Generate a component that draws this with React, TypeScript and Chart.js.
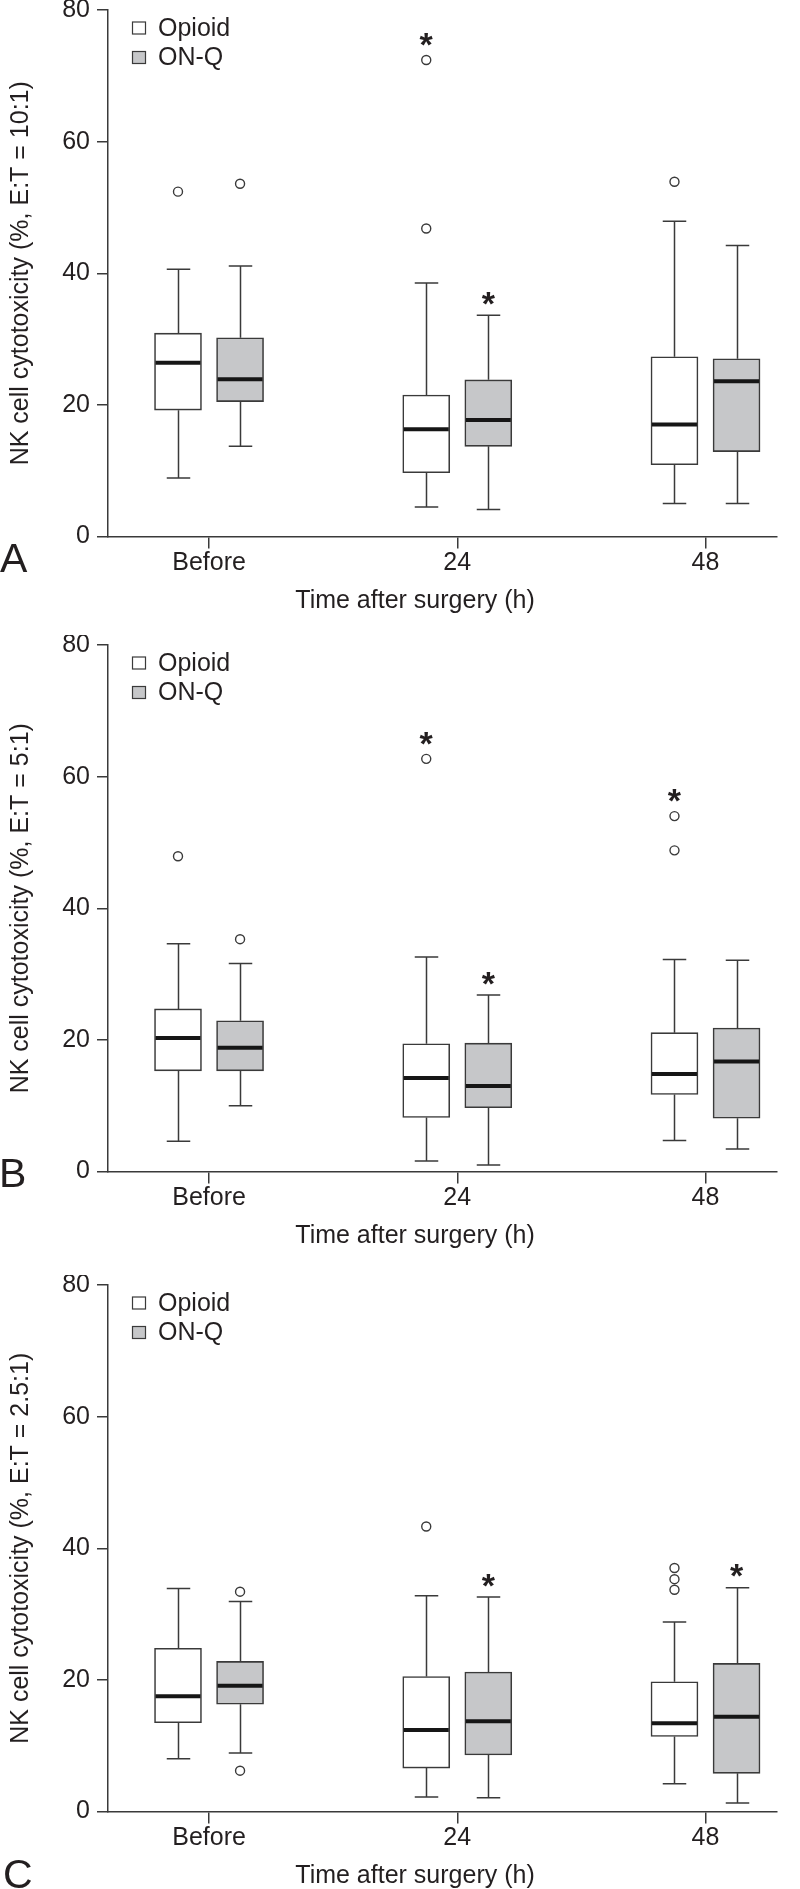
import React, { useEffect, useRef } from 'react';
import { Chart, registerables } from 'chart.js';

Chart.register(...registerables);

// ---------- data ----------
const categories = ['Before', '24', '48'];
const seriesNames = ['Opioid', 'ON-Q'];
const yTickValues = [0, 20, 40, 60, 80];

// box stats per category: [min whisker, Q1, median, Q3, max whisker]
const aOpioidStats = [[8.9, 19.2, 26.4, 30.9, 40.6], [4.5, 9.7, 16.3, 21.5, 38.5], [5.0, 10.9, 17.0, 27.3, 47.9]];
const aOnqStats = [[13.7, 20.5, 23.9, 30.2, 41.1], [4.1, 13.7, 17.7, 23.8, 33.6], [5.0, 12.9, 23.6, 27.0, 44.2]];
const aOpioidOutliers = [[52.4], [46.8, 72.4], [53.9]];
const aOnqOutliers = [[53.6], [], []];
const aOpioidStars = [false, true, false];
const aOnqStars = [false, true, false];

const bOpioidStats = [[4.6, 15.3, 20.3, 24.7, 34.6], [1.6, 8.2, 14.2, 19.4, 32.6], [4.7, 11.7, 14.8, 21.1, 32.2]];
const bOnqStats = [[10.0, 15.3, 18.8, 22.9, 31.6], [1.0, 9.7, 13.0, 19.5, 26.8], [3.4, 8.1, 16.7, 21.8, 32.1]];
const bOpioidOutliers = [[47.9], [62.7], [54.0, 48.8]];
const bOnqOutliers = [[35.3], [], []];
const bOpioidStars = [false, true, true];
const bOnqStars = [false, true, false];

const cOpioidStats = [[8.0, 13.5, 17.5, 24.8, 33.9], [2.2, 6.6, 12.4, 20.5, 32.8], [4.2, 11.4, 13.4, 19.7, 28.8]];
const cOnqStats = [[8.9, 16.3, 19.1, 22.8, 31.9], [2.1, 8.6, 13.7, 21.2, 32.6], [1.3, 5.8, 14.4, 22.5, 34.0]];
const cOpioidOutliers = [[], [43.3], [37.0, 35.3, 33.7]];
const cOnqOutliers = [[33.4, 6.2], [], []];
const cOpioidStars = [false, false, false];
const cOnqStars = [false, true, true];

const xTitle = 'Time after surgery (h)';
const yTitles = [
  'NK cell cytotoxicity (%, E:T = 10:1)',
  'NK cell cytotoxicity (%, E:T = 5:1)',
  'NK cell cytotoxicity (%, E:T = 2.5:1)',
];
const panelLetters = ['A', 'B', 'C'];

// ---------- styles ----------
const FONT = '"Liberation Sans", Arial, Helvetica, sans-serif';
const TEXT = '#231f20';
const LINE = '#3a3a3a';
const FILLS = ['#ffffff', '#c6c7c9'];
const GROUP_OFFSET = 0.125;
const BOX_WIDTH = 47;

type PanelDef = {
  stats: number[][][];
  outliers: number[][][];
  stars: boolean[][];
  yTitle: string;
  letter: string;
  top: number;
  height: number;
  letterTop: number;
  letterLeft: number;
  titleTop: number;
};

const panels: PanelDef[] = [
  {
    stats: [aOpioidStats, aOnqStats],
    outliers: [aOpioidOutliers, aOnqOutliers],
    stars: [aOpioidStars, aOnqStars],
    yTitle: yTitles[0], letter: panelLetters[0],
    top: 0, height: 630, letterTop: 538, letterLeft: 0, titleTop: 584,
  },
  {
    stats: [bOpioidStats, bOnqStats],
    outliers: [bOpioidOutliers, bOnqOutliers],
    stars: [bOpioidStars, bOnqStars],
    yTitle: yTitles[1], letter: panelLetters[1],
    top: 635, height: 630, letterTop: 1153, letterLeft: -1, titleTop: 1219,
  },
  {
    stats: [cOpioidStats, cOnqStats],
    outliers: [cOpioidOutliers, cOnqOutliers],
    stars: [cOpioidStars, cOnqStars],
    yTitle: yTitles[2], letter: panelLetters[2],
    top: 1275, height: 614, letterTop: 1854, letterLeft: 3, titleTop: 1859,
  },
];

const boxPlugin = {
  id: 'boxParts',
  beforeDatasetsDraw(chart: any) {
    const { ctx } = chart;
    const xs = chart.scales.x;
    const ys = chart.scales.y;
    const p: PanelDef = chart.options.plugins.boxParts.panel;
    ctx.save();
    ctx.strokeStyle = LINE;
    ctx.lineWidth = 1.5;
    p.stats.forEach((series, si) => {
      const off = si === 0 ? -GROUP_OFFSET : GROUP_OFFSET;
      series.forEach((st, ci) => {
        const x = Math.round(xs.getPixelForValue(ci + off)) + 0.5;
        const half = BOX_WIDTH / 4;
        const segs = [[st[3], st[4]], [st[1], st[0]]];
        segs.forEach(([from, to]) => {
          const y1 = ys.getPixelForValue(from);
          const y2 = ys.getPixelForValue(to);
          ctx.beginPath();
          ctx.moveTo(x, y1);
          ctx.lineTo(x, y2);
          ctx.moveTo(x - half, y2);
          ctx.lineTo(x + half, y2);
          ctx.stroke();
        });
      });
    });
    ctx.restore();
  },
  afterDatasetsDraw(chart: any) {
    const { ctx, chartArea } = chart;
    const xs = chart.scales.x;
    const ys = chart.scales.y;
    const p: PanelDef = chart.options.plugins.boxParts.panel;
    ctx.save();
    // medians
    ctx.strokeStyle = '#161616';
    ctx.lineWidth = 4;
    p.stats.forEach((series, si) => {
      const off = si === 0 ? -GROUP_OFFSET : GROUP_OFFSET;
      series.forEach((st, ci) => {
        const x = xs.getPixelForValue(ci + off);
        const y = ys.getPixelForValue(st[2]);
        ctx.beginPath();
        ctx.moveTo(x - BOX_WIDTH / 2 + 1, y);
        ctx.lineTo(x + BOX_WIDTH / 2 - 1, y);
        ctx.stroke();
      });
    });
    // significance asterisks
    const F = 34;
    ctx.fillStyle = TEXT;
    ctx.font = `bold ${F}px ${FONT}`;
    ctx.textAlign = 'center';
    ctx.textBaseline = 'alphabetic';
    p.stars.forEach((flags, si) => {
      const off = si === 0 ? -GROUP_OFFSET : GROUP_OFFSET;
      flags.forEach((flag, ci) => {
        if (!flag) return;
        const x = xs.getPixelForValue(ci + off);
        const outs = p.outliers[si][ci];
        const topOut = outs.length ? Math.max(...outs) : -Infinity;
        const whiskerTop = p.stats[si][ci][4];
        let cy: number;
        if (topOut > whiskerTop) cy = ys.getPixelForValue(topOut) - 24;
        else cy = ys.getPixelForValue(whiskerTop) - 20;
        ctx.fillText('*', x, cy + 0.58 * F);
      });
    });
    // legend
    ctx.font = `25px ${FONT}`;
    ctx.textAlign = 'left';
    ctx.textBaseline = 'middle';
    seriesNames.forEach((name, i) => {
      const cy = chartArea.top + 18 + i * 29.5;
      const lx = chartArea.left + 24.5;
      ctx.fillStyle = FILLS[i];
      ctx.fillRect(lx, cy - 6, 13, 12);
      ctx.strokeStyle = LINE;
      ctx.lineWidth = 1.2;
      ctx.strokeRect(lx, cy - 6, 13, 12);
      ctx.fillStyle = TEXT;
      ctx.fillText(name, chartArea.left + 50, cy + 1);
    });
    ctx.restore();
  },
};

function PanelChart({ p }: { p: PanelDef }) {
  const ref = useRef<HTMLCanvasElement | null>(null);
  useEffect(() => {
    if (!ref.current) return;
    const datasets: any[] = [];
    p.stats.forEach((series, si) => {
      const off = si === 0 ? -GROUP_OFFSET : GROUP_OFFSET;
      datasets.push({
        type: 'bar',
        label: seriesNames[si],
        data: series.map((st, ci) => ({ x: ci + off, y: [st[1], st[3]] })),
        backgroundColor: FILLS[si],
        borderColor: LINE,
        borderWidth: 1.6,
        borderSkipped: false,
        barThickness: BOX_WIDTH,
        grouped: false,
        order: 2,
      });
    });
    p.outliers.forEach((series, si) => {
      const off = si === 0 ? -GROUP_OFFSET : GROUP_OFFSET;
      datasets.push({
        type: 'scatter',
        label: seriesNames[si] + ' outliers',
        data: series.flatMap((vals, ci) => vals.map((v) => ({ x: ci + off, y: v }))),
        pointRadius: 4.5,
        pointBackgroundColor: '#ffffff',
        pointBorderColor: LINE,
        pointBorderWidth: 1.4,
        order: 1,
      });
    });
    const xHeight = p.height - 536.5;
    const chart = new Chart(ref.current, {
      type: 'bar',
      data: { datasets },
      plugins: [boxPlugin],
      options: {
        responsive: false,
        animation: false,
        devicePixelRatio: 1,
        events: [],
        layout: { padding: { top: 10, right: 23, left: 0, bottom: 0 } },
        plugins: {
          legend: { display: false },
          tooltip: { enabled: false },
          boxParts: { panel: p },
        } as any,
        scales: {
          x: {
            type: 'linear',
            min: -0.407,
            max: 2.288,
            offset: false,
            afterBuildTicks: (scale: any) => {
              scale.ticks = categories.map((_, i) => ({ value: i }));
            },
            afterFit: (scale: any) => {
              scale.height = xHeight;
              scale.paddingLeft = 0;
              scale.paddingRight = 0;
            },
            ticks: {
              callback: (v: any) => categories[v] ?? '',
              font: { family: FONT, size: 25 },
              color: TEXT,
              padding: 0,
              maxRotation: 0,
              autoSkip: false,
            },
            grid: {
              offset: false,
              drawOnChartArea: false,
              drawTicks: true,
              tickLength: 12,
              color: LINE,
              lineWidth: 1.5,
            },
            border: { display: true, color: LINE, width: 1.5 },
          },
          y: {
            type: 'linear',
            min: 0,
            max: 80,
            afterBuildTicks: (scale: any) => {
              scale.ticks = yTickValues.map((v) => ({ value: v }));
            },
            afterFit: (scale: any) => {
              scale.width = 108;
              scale.paddingTop = 0;
              scale.paddingBottom = 0;
            },
            ticks: {
              font: { family: FONT, size: 25 },
              color: TEXT,
              padding: 7,
            },
            grid: {
              drawOnChartArea: false,
              drawTicks: true,
              tickLength: 11,
              color: LINE,
              lineWidth: 1.5,
            },
            border: { display: true, color: LINE, width: 1.5 },
            title: {
              display: true,
              text: p.yTitle,
              font: { family: FONT, size: 25 },
              color: TEXT,
              padding: { top: 6, bottom: 0 },
            },
          },
        },
      } as any,
    });
    return () => chart.destroy();
  }, [p]);
  return (
    <canvas
      ref={ref}
      width={800}
      height={p.height}
      style={{ position: 'absolute', left: 0, top: p.top, width: 800, height: p.height }}
    />
  );
}

export default function App() {
  return (
    <div style={{ position: 'absolute', left: 0, top: 0, width: 800, height: 1889, background: '#fff', overflow: 'hidden' }}>
      {panels.map((p, i) => (
        <React.Fragment key={i}>
          <PanelChart p={p} />
          <div
            style={{
              position: 'absolute', left: 415, top: p.titleTop, transform: 'translateX(-50%)',
              fontFamily: FONT, fontSize: 25, lineHeight: '30px', color: TEXT, whiteSpace: 'nowrap',
            }}
          >
            {xTitle}
          </div>
          <div
            style={{
              position: 'absolute', left: p.letterLeft, top: p.letterTop,
              fontFamily: FONT, fontSize: 41, lineHeight: '41px', color: TEXT, whiteSpace: 'nowrap',
            }}
          >
            {p.letter}
          </div>
        </React.Fragment>
      ))}
    </div>
  );
}
